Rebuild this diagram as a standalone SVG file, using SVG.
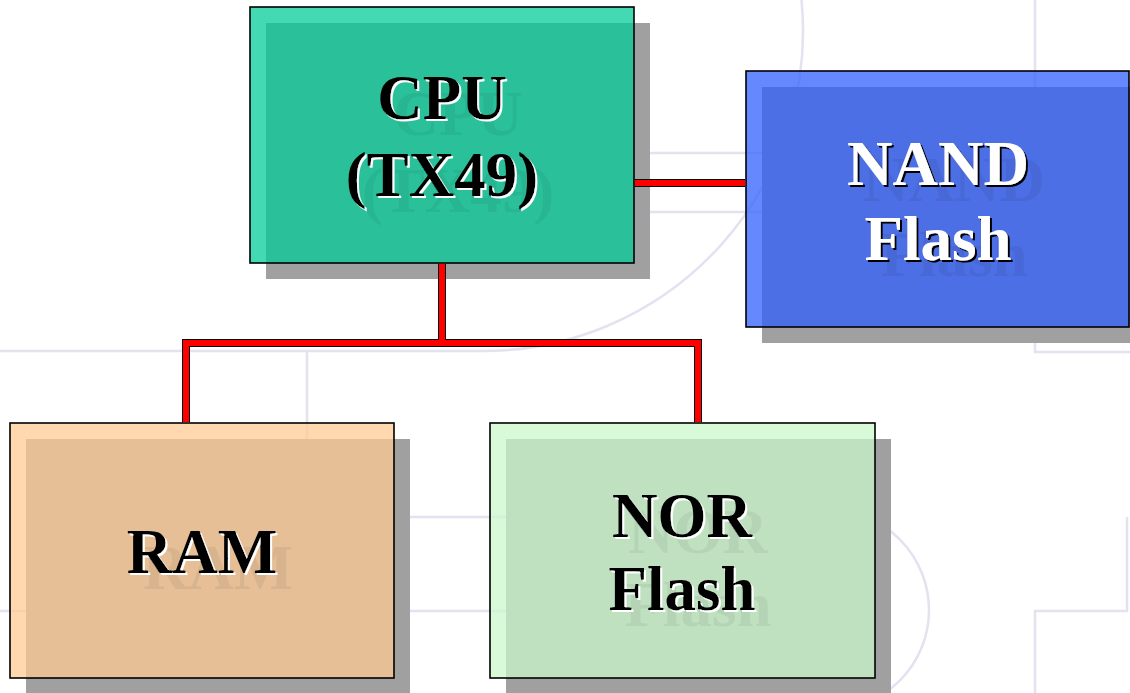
<svg xmlns="http://www.w3.org/2000/svg" width="1130" height="693" viewBox="0 0 1130 693">
<style>
.bg{fill:none;stroke:#E4E2F0;stroke-width:2.5}
.shadow{fill:#A0A0A0}
.face{stroke:#000;stroke-width:1.6;fill-opacity:0.737}
.lbl{font-family:"Liberation Serif","Times New Roman",serif;font-weight:bold;font-size:63px;text-anchor:middle}
.dk{fill:#000;filter:url(#embDark)}
.wt{fill:#fff;filter:url(#embLight)}
.wire-under{fill:none;stroke:#000;stroke-width:8}
.wire{fill:none;stroke:#FF0000;stroke-width:6}
</style>
<defs>
<filter id="embDark" x="-20%" y="-30%" width="160%" height="180%">
<feOffset in="SourceAlpha" dx="16" dy="16" result="g"/>
<feFlood flood-color="#000" flood-opacity="0.06"/>
<feComposite in2="g" operator="in" result="ghost"/>
<feOffset in="SourceAlpha" dx="2" dy="2" result="s"/>
<feFlood flood-color="#fff"/>
<feComposite in2="s" operator="in" result="shad"/>
<feMerge><feMergeNode in="ghost"/><feMergeNode in="shad"/><feMergeNode in="SourceGraphic"/></feMerge>
</filter>
<filter id="embLight" x="-20%" y="-30%" width="160%" height="180%">
<feOffset in="SourceAlpha" dx="16" dy="16" result="g"/>
<feFlood flood-color="#000" flood-opacity="0.06"/>
<feComposite in2="g" operator="in" result="ghost"/>
<feOffset in="SourceAlpha" dx="2" dy="2" result="s"/>
<feFlood flood-color="#000"/>
<feComposite in2="s" operator="in" result="shad"/>
<feMerge><feMergeNode in="ghost"/><feMergeNode in="shad"/><feMergeNode in="SourceGraphic"/></feMerge>
</filter>
</defs>
<rect width="1130" height="693" fill="#fff"/>
<g id="background">
<path class="bg" d="M801.5 0 A320 320 0 0 1 483 351 H0"/>
<path class="bg" d="M560 153 H800 M560 212 H800"/>
<path class="bg" d="M1035 0 V352 H1130"/>
<path class="bg" d="M307 351 V611"/>
<path class="bg" d="M70 611 V517 H560"/>
<path class="bg" d="M0 611 H540"/>
<circle class="bg" cx="829" cy="610" r="100"/>
<path class="bg" d="M1127 517 V611 H1035 V693"/>
</g>
<g id="cpu">
<rect class="shadow" x="266" y="23" width="384" height="256"/>
<rect class="face" x="250" y="7" width="384" height="256" fill="#00CB98"/>
<text class="lbl dk" x="442" y="119">CPU</text>
<text class="lbl dk" x="442" y="196">(TX49)</text>
</g>
<g id="nand">
<rect class="shadow" x="762" y="87" width="384" height="256"/>
<rect class="face" x="746" y="71" width="383" height="256" fill="#2F5EFF"/>
<text class="lbl wt" x="938" y="185">NAND</text>
<text class="lbl wt" x="938" y="260">Flash</text>
</g>
<g id="ram">
<rect class="shadow" x="26" y="439" width="384" height="255"/>
<rect class="face" x="10" y="423" width="384" height="255" fill="#FFCA94"/>
<text class="lbl dk" x="202" y="573">RAM</text>
</g>
<g id="nor">
<rect class="shadow" x="506" y="439" width="385" height="255"/>
<rect class="face" x="490" y="423" width="385" height="255" fill="#CCF8CC"/>
<text class="lbl dk" x="682" y="537">NOR</text>
<text class="lbl dk" x="682" y="610">Flash</text>
</g>
<g id="connectors">
<path class="wire-under" d="M635 183 H745 M442 264 V343 M186 422 V343 H698 V422"/>
<path class="wire" d="M635 183 H745 M442 264 V343 M186 422 V343 H698 V422"/>
</g>
</svg>
